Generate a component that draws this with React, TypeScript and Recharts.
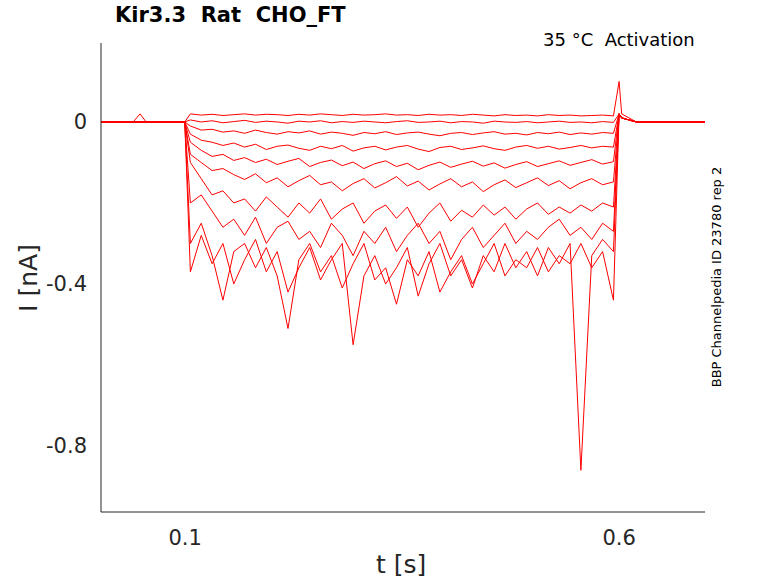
import React from "react";
import { LineChart, Line, XAxis, YAxis } from "recharts";

const pulseTimes = [0.106,0.1185,0.131,0.1435,0.156,0.1685,0.181,0.1935,0.206,0.2185,0.231,0.2435,0.256,0.2685,0.281,0.2935,0.306,0.3185,0.331,0.3435,0.356,0.3685,0.381,0.3935,0.406,0.4185,0.431,0.4435,0.456,0.4685,0.481,0.4935,0.506,0.5185,0.531,0.5435,0.556,0.5685,0.581,0.5935];
const s1 = [0.02,0.017,0.019,0.016,0.018,0.02,0.017,0.019,0.018,0.016,0.019,0.017,0.02,0.018,0.016,0.019,0.017,0.018,0.02,0.017,0.018,0.016,0.019,0.017,0.018,0.016,0.019,0.017,0.015,0.018,0.016,0.017,0.015,0.018,0.016,0.017,0.015,0.016,0.017,0.015];
const s2 = [0.005,0.0,0.003,-0.002,0.001,0.004,-0.001,0.002,0.0,-0.003,0.002,0.0,0.003,-0.002,0.001,-0.001,0.002,0.0,-0.002,0.001,0.003,-0.001,0.0,0.002,-0.002,0.001,0.0,-0.003,0.002,0.0,-0.001,0.001,-0.002,0.0,0.002,-0.001,0.0,-0.002,0.001,-0.001];
const s3 = [-0.01,-0.02,-0.018,-0.025,-0.022,-0.028,-0.02,-0.026,-0.03,-0.024,-0.027,-0.022,-0.03,-0.025,-0.028,-0.033,-0.026,-0.029,-0.024,-0.031,-0.027,-0.025,-0.03,-0.034,-0.028,-0.026,-0.031,-0.027,-0.024,-0.03,-0.028,-0.032,-0.026,-0.029,-0.025,-0.031,-0.027,-0.03,-0.026,-0.028];
const s4 = [-0.03,-0.045,-0.05,-0.058,-0.052,-0.062,-0.055,-0.068,-0.06,-0.057,-0.065,-0.07,-0.06,-0.066,-0.058,-0.072,-0.064,-0.06,-0.069,-0.062,-0.058,-0.067,-0.073,-0.063,-0.06,-0.068,-0.064,-0.059,-0.066,-0.07,-0.062,-0.058,-0.065,-0.06,-0.067,-0.063,-0.058,-0.064,-0.06,-0.062];
const s5 = [-0.05,-0.07,-0.085,-0.08,-0.095,-0.088,-0.1,-0.092,-0.105,-0.097,-0.09,-0.11,-0.1,-0.094,-0.108,-0.099,-0.115,-0.103,-0.096,-0.11,-0.102,-0.118,-0.107,-0.099,-0.112,-0.104,-0.097,-0.109,-0.101,-0.114,-0.105,-0.098,-0.11,-0.103,-0.096,-0.107,-0.1,-0.093,-0.104,-0.098];
const s6 = [-0.08,-0.1,-0.12,-0.115,-0.13,-0.142,-0.128,-0.15,-0.138,-0.16,-0.145,-0.132,-0.155,-0.148,-0.17,-0.152,-0.14,-0.163,-0.15,-0.135,-0.158,-0.146,-0.168,-0.153,-0.14,-0.16,-0.148,-0.172,-0.155,-0.143,-0.162,-0.15,-0.138,-0.157,-0.145,-0.165,-0.15,-0.14,-0.155,-0.148];
const s7 = [-0.1,-0.14,-0.18,-0.17,-0.2,-0.19,-0.22,-0.185,-0.21,-0.235,-0.2,-0.225,-0.19,-0.24,-0.215,-0.2,-0.25,-0.22,-0.205,-0.238,-0.21,-0.26,-0.225,-0.2,-0.245,-0.218,-0.235,-0.205,-0.23,-0.21,-0.24,-0.215,-0.2,-0.228,-0.21,-0.225,-0.205,-0.22,-0.2,-0.21];
const s8 = [-0.2,-0.18,-0.22,-0.26,-0.24,-0.28,-0.235,-0.3,-0.26,-0.245,-0.29,-0.27,-0.31,-0.25,-0.28,-0.33,-0.27,-0.3,-0.26,-0.32,-0.28,-0.25,-0.3,-0.27,-0.34,-0.29,-0.26,-0.31,-0.28,-0.25,-0.3,-0.27,-0.29,-0.26,-0.24,-0.28,-0.26,-0.29,-0.25,-0.27];
const s9 = [-0.3,-0.25,-0.33,-0.44,-0.32,-0.3,-0.36,-0.31,-0.38,-0.51,-0.34,-0.3,-0.37,-0.33,-0.41,-0.35,-0.3,-0.39,-0.36,-0.45,-0.34,-0.38,-0.32,-0.42,-0.37,-0.33,-0.4,-0.35,-0.3,-0.38,-0.34,-0.36,-0.31,-0.37,-0.33,-0.35,-0.3,-0.36,-0.32,-0.44];
const s10 = [-0.37,-0.28,-0.35,-0.3,-0.4,-0.34,-0.29,-0.37,-0.32,-0.42,-0.36,-0.31,-0.39,-0.34,-0.3,-0.55,-0.38,-0.33,-0.4,-0.36,-0.31,-0.43,-0.35,-0.3,-0.38,-0.34,-0.41,-0.33,-0.37,-0.3,-0.36,-0.32,-0.38,-0.31,-0.35,-0.3,-0.86,-0.33,-0.29,-0.32];
const series = [s1, s2, s3, s4, s5, s6, s7, s8, s9, s10];
const keys = series.map((_, i) => "s" + (i + 1));

const preTimes = [0.003, 0.04, 0.048, 0.055, 0.0995];
const preS1 = [0, 0, 0.02, 0, 0];
const endTimes = [0.6, 0.603, 0.62, 0.7];
const endS1 = [0.1, 0.02, 0.0, 0.0];
const endOthers = [0.02, 0.01, 0.0, 0.0];

const xTicks = [0.1, 0.6];
const yTicks = [0, -0.4, -0.8];

const rows: any[] = [];
preTimes.forEach((t, j) => {
  const r: any = { t };
  keys.forEach((k, i) => (r[k] = i === 0 ? preS1[j] : 0));
  rows.push(r);
});
pulseTimes.forEach((t, j) => {
  const r: any = { t };
  keys.forEach((k, i) => (r[k] = series[i][j]));
  rows.push(r);
});
endTimes.forEach((t, j) => {
  const r: any = { t };
  keys.forEach((k, i) => (r[k] = i === 0 ? endS1[j] : endOthers[j]));
  rows.push(r);
});

const font = "DejaVu Sans, sans-serif";
const tickStyle = { fontSize: 21, fill: "#262626", fontFamily: font };

export default function App() {
  return (
    <div style={{ position: "absolute", left: 0, top: 0, width: 778, height: 583, background: "#fff", fontFamily: font }}>
      <LineChart width={778} height={583} data={rows} margin={{ top: 43, right: 73, bottom: 0, left: 0 }}>
        <XAxis dataKey="t" type="number" domain={[0.003, 0.699]} ticks={xTicks} tickFormatter={(v) => String(v)} tick={tickStyle} tickLine={false} tickMargin={12} height={71} stroke="#262626" allowDataOverflow />
        <YAxis type="number" domain={[-0.963, 0.195]} ticks={yTicks} tickFormatter={(v) => String(v)} tick={tickStyle} tickLine={false} tickMargin={8} width={101} stroke="#262626" allowDataOverflow />
        {keys.map((k) => (
          <Line key={k} dataKey={k} type="linear" stroke="#ff0000" strokeWidth={1} dot={false} isAnimationActive={false} />
        ))}
      </LineChart>
      <div style={{ position: "absolute", left: 115, top: 3, fontSize: 21, fontWeight: "bold", color: "#000" }}>Kir3.3&nbsp;&nbsp;Rat&nbsp;&nbsp;CHO_FT</div>
      <div style={{ position: "absolute", left: 543, top: 29, fontSize: 18, color: "#000" }}>35 °C&nbsp;&nbsp;Activation</div>
      <div style={{ position: "absolute", left: 376, top: 550, fontSize: 25, color: "#262626" }}>t [s]</div>
      <div style={{ position: "absolute", left: 28, top: 278, fontSize: 25, color: "#262626", transform: "translate(-50%,-50%) rotate(-90deg)", whiteSpace: "nowrap" }}>I [nA]</div>
      <div style={{ position: "absolute", left: 716, top: 277, fontSize: 13, color: "#000", transform: "translate(-50%,-50%) rotate(-90deg)", whiteSpace: "nowrap" }}>BBP Channelpedia ID 23780 rep 2</div>
    </div>
  );
}
